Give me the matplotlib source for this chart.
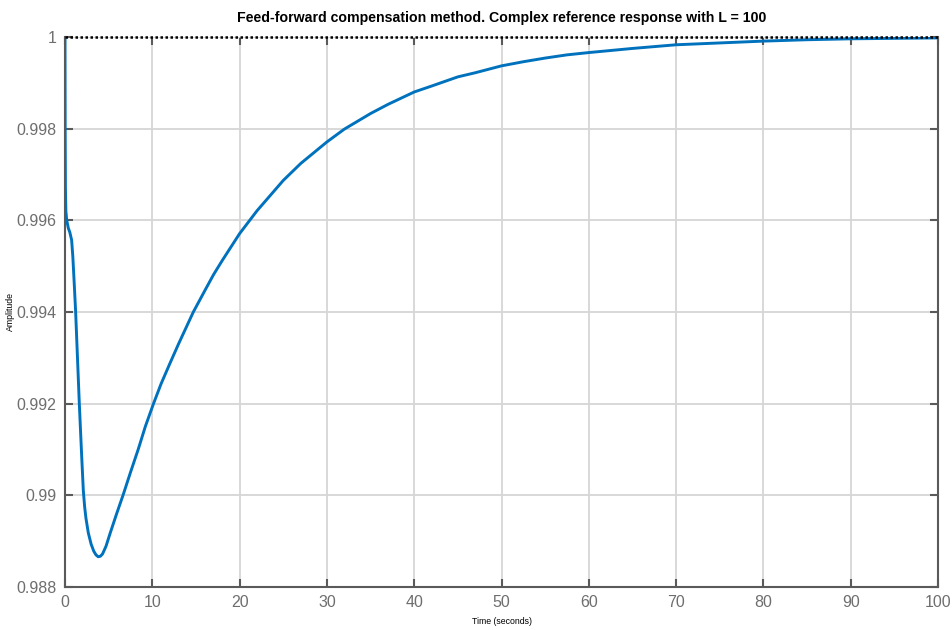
import matplotlib
matplotlib.use("Agg")
import matplotlib.pyplot as plt

# step response samples (time in seconds, amplitude)
time_s = [0, 0.02, 0.05, 0.1, 0.2, 0.38, 0.55, 0.76, 0.9, 1.05, 1.22, 1.43,
          1.64, 1.9, 2.1, 2.25, 2.4, 2.67, 3.0, 3.3, 3.55, 3.8, 4.05, 4.3,
          4.7, 5.15, 5.9, 6.68, 7.5, 8.4, 9.2, 10.1, 11, 12, 13, 14.7, 16,
          17, 18, 20, 22, 25, 27, 30, 32, 35, 37, 40, 42, 45, 47, 50, 52.5,
          55, 57.5, 60, 65, 70, 75, 80, 85, 90, 95, 100]
amplitude = [1.0, 0.99800, 0.99670, 0.99620, 0.99600, 0.99583, 0.99574,
             0.99557, 0.99520, 0.99465, 0.99400, 0.99300, 0.99200, 0.99090,
             0.99010, 0.98975, 0.98950, 0.98918, 0.98893, 0.98878, 0.98870,
             0.98866, 0.98867, 0.98872, 0.98889, 0.98916, 0.98959, 0.99002,
             0.99050, 0.99101, 0.99150, 0.99198, 0.99243, 0.99287, 0.99330,
             0.99400, 0.99446, 0.99481, 0.99512, 0.99571, 0.99621, 0.99687,
             0.99724, 0.99771, 0.99799, 0.99833, 0.99853, 0.99880, 0.99893,
             0.99913, 0.99922, 0.99937, 0.99946, 0.99954, 0.99961, 0.99966,
             0.99975, 0.99983, 0.99987, 0.99991, 0.99994, 0.99996, 0.99997,
             0.99998]
final_value = 1.0

x_ticks = [0, 10, 20, 30, 40, 50, 60, 70, 80, 90, 100]
y_ticks = [0.988, 0.99, 0.992, 0.994, 0.996, 0.998, 1]
y_tick_labels = ["0.988", "0.99", "0.992", "0.994", "0.996", "0.998", "1"]

plt.rcParams["font.family"] = ["Liberation Sans", "DejaVu Sans"]

fig = plt.figure(figsize=(9.53, 6.30), dpi=100)
ax = fig.add_axes([0.0682, 0.0683, 0.9161, 0.873])

ax.plot(time_s, amplitude, color="#0072BD", linewidth=2.1, zorder=3,
        solid_joinstyle="round")
ax.plot([0, 100], [final_value, final_value], color="black",
        linestyle=(0, (1, 1)), linewidth=1.8, zorder=4, clip_on=False)

ax.set_xlim(0, 100)
ax.set_ylim(0.988, 1.0)
ax.set_xticks(x_ticks)
ax.set_yticks(y_ticks)
ax.set_yticklabels(y_tick_labels)

ax.grid(True, color="#d6d6d6", linewidth=1.3, zorder=0)
ax.set_axisbelow(True)

for side in ["left", "bottom", "right"]:
    ax.spines[side].set_color("#5a5a5a")
    ax.spines[side].set_linewidth(1.5)
ax.spines["top"].set_visible(False)

ax.tick_params(direction="in", length=6, width=1.5, color="#5a5a5a",
               labelsize=11.5, labelcolor="#6e6e6e",
               top=True, right=True, pad=6)

ax.set_title("Feed-forward compensation method. Complex reference response with L = 100",
             fontsize=10.2, fontweight="bold", pad=11)
ax.set_xlabel("Time (seconds)", fontsize=6.3, labelpad=5)
ax.set_ylabel("Amplitude", fontsize=6.3, labelpad=1)

fig.savefig("out.png", dpi=100, facecolor="white")
